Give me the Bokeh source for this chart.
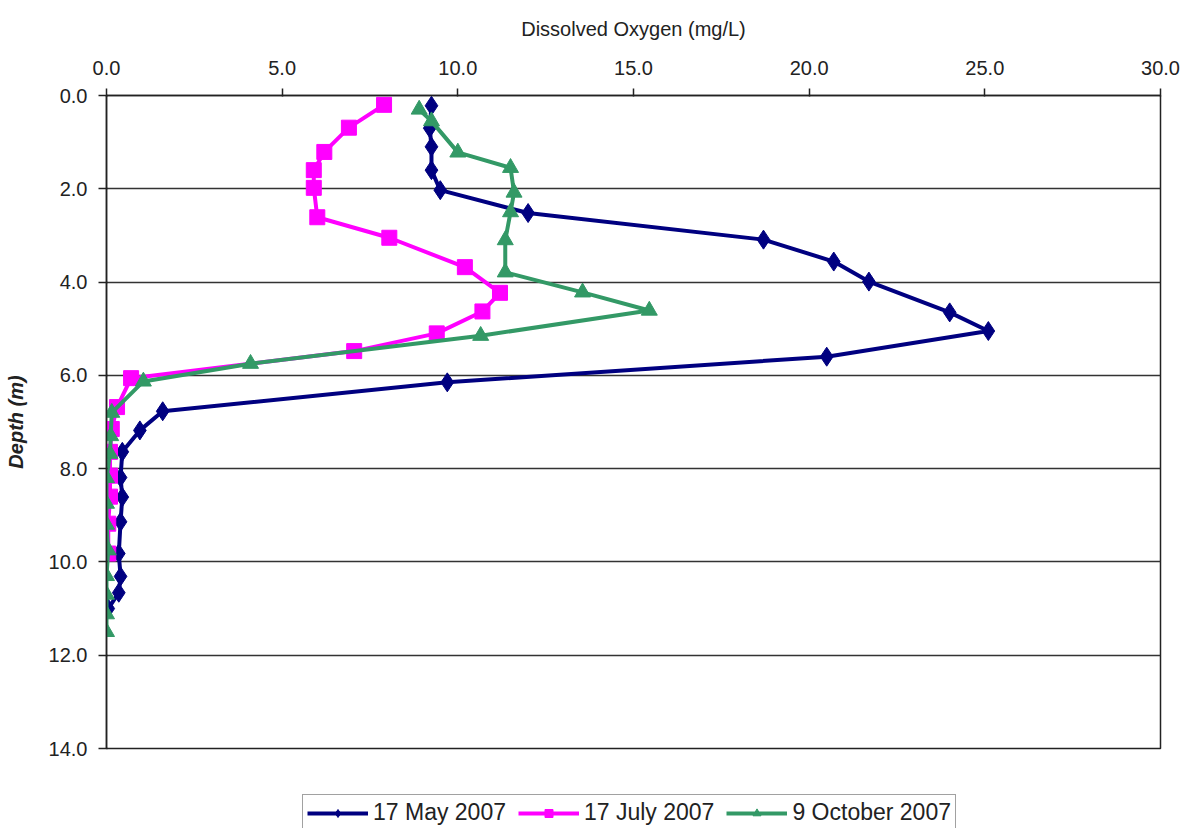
from bokeh.plotting import figure
from bokeh.layouts import column
from bokeh.models import Range1d, FixedTicker, Legend, LegendItem, NumeralTickFormatter
from bokeh.embed import file_html
from bokeh.resources import INLINE

# ---- data ----
may_do = [9.25, 9.2, 9.25, 9.25, 9.5, 12.0, 18.7, 20.7, 21.7, 24.0, 25.1, 20.5, 9.7,
          1.6, 0.95, 0.45, 0.4, 0.45, 0.4, 0.35, 0.4, 0.35, 0.05]
may_depth = [0.22, 0.7, 1.1, 1.6, 2.03, 2.52, 3.09, 3.56, 3.99, 4.65, 5.05, 5.6, 6.15,
             6.77, 7.18, 7.64, 8.19, 8.61, 9.14, 9.82, 10.31, 10.66, 11.0]

jul_do = [7.9, 6.9, 6.2, 5.9, 5.9, 6.0, 8.05, 10.2, 11.2, 10.7, 9.4, 7.05, 0.7,
          0.3, 0.15, 0.1, 0.1, 0.1, 0.05, 0.05]
jul_depth = [0.2, 0.69, 1.21, 1.6, 1.98, 2.61, 3.05, 3.68, 4.23, 4.63, 5.1, 5.48, 6.06,
             6.68, 7.15, 7.64, 8.15, 8.6, 9.18, 9.82]

oct_do = [8.9, 9.25, 10.0, 11.5, 11.6, 11.5, 11.35, 11.35, 13.55, 15.45, 10.65, 4.1, 1.05,
          0.15, 0.12, 0.1, 0.0, 0.0, 0.0, 0.05, 0.0, 0.0, 0.0, 0.0]
oct_depth = [0.3, 0.55, 1.22, 1.55, 2.08, 2.5, 3.1, 3.79, 4.22, 4.61, 5.15, 5.75, 6.13,
             6.8, 7.3, 7.68, 8.2, 8.75, 9.2, 9.75, 10.3, 10.7, 11.12, 11.5]

series_names = ["17 May 2007", "17 July 2007", "9 October 2007"]
x_ticks = [0, 5, 10, 15, 20, 25, 30]
y_ticks = [0, 2, 4, 6, 8, 10, 12, 14]

FONT = "Liberation Sans"
colors = ["#000080", "#FF00FF", "#339966"]
markers = ["diamond", "square", "triangle"]
sizes = [19, 15, 16]

p = figure(frame_width=1054, frame_height=653, output_backend="svg", toolbar_location=None,
           x_range=Range1d(0, 30), y_range=Range1d(14, 0),
           x_axis_location="above", min_border_left=106, min_border_right=25,
           min_border_top=95, min_border_bottom=41)
p.background_fill_color = "white"
p.border_fill_color = "white"
p.outline_line_color = "#222222"
p.outline_line_width = 1.5

# grid
p.xgrid.visible = False
p.ygrid.ticker = FixedTicker(ticks=y_ticks)
p.ygrid.grid_line_color = "#333333"
p.ygrid.grid_line_width = 1.5

# axes
xa = p.xaxis[0]
xa.ticker = FixedTicker(ticks=x_ticks)
xa.formatter = NumeralTickFormatter(format="0.0")
xa.axis_label = "Dissolved Oxygen (mg/L)"
ya = p.yaxis[0]
ya.ticker = FixedTicker(ticks=y_ticks)
ya.formatter = NumeralTickFormatter(format="0.0")
ya.axis_label = "Depth (m)"
ya.axis_label_text_font_style = "bold italic"
xa.axis_label_text_font_style = "normal"
for ax in (xa, ya):
    ax.axis_line_color = "#222222"
    ax.axis_line_width = 1.5
    ax.major_tick_line_color = "#222222"
    ax.major_tick_line_width = 1.5
    ax.minor_tick_line_color = None
    ax.major_label_text_font = FONT
    ax.major_label_text_font_size = "20px"
    ax.major_label_text_color = "#222222"
    ax.axis_label_text_font = FONT
    ax.axis_label_text_font_size = "20px"
    ax.axis_label_text_color = "#222222"
xa.major_tick_out = 7
xa.major_tick_in = 1
xa.major_label_standoff = 14
xa.axis_label_standoff = 18
ya.major_tick_out = 8
ya.major_tick_in = 1
ya.major_label_standoff = 11
ya.axis_label_standoff = 19

xs = [may_do, jul_do, oct_do]
ys = [may_depth, jul_depth, oct_depth]
for c, m, s, x, y in zip(colors, markers, sizes, xs, ys):
    p.line(x, y, line_color=c, line_width=4, line_join="round")
    p.scatter(x, y, marker=m, size=s, fill_color=c, line_color=c)

# ---- legend strip below the chart (its frame is aligned with the chart's frame) ----
lg = figure(width=1185, height=39, output_backend="svg", toolbar_location=None,
            x_range=Range1d(0, 1), y_range=Range1d(0, 1),
            min_border_left=0, min_border_right=0, min_border_top=0, min_border_bottom=0)
lg.axis.visible = False
lg.grid.visible = False
lg.outline_line_color = None
lg.background_fill_color = "white"
lg.border_fill_color = "white"

items = []
for name, c, m, s in zip(series_names, colors, markers, sizes):
    # proxy renderers (placed outside the visible range) that only give the legend its glyphs
    l = lg.line([5, 6], [5, 6], line_color=c, line_width=4)
    sc = lg.scatter([5], [5], marker=m, size=s, fill_color=c, line_color=c)
    items.append(LegendItem(label=name, renderers=[l, sc]))

legend = Legend(items=items, orientation="horizontal", location=(196, -3))
legend.label_text_font = FONT
legend.label_text_font_size = "23px"
legend.label_text_color = "#222222"
legend.glyph_width = 61
legend.glyph_height = 20
legend.spacing = 12
legend.padding = 4
legend.margin = 0
legend.label_standoff = 5
legend.border_line_color = "#444444"
legend.border_line_width = 1.5
legend.background_fill_alpha = 1.0
lg.add_layout(legend, "center")

layout = column(p, lg, spacing=0)
open("out.html", "w").write(file_html(layout, INLINE))
